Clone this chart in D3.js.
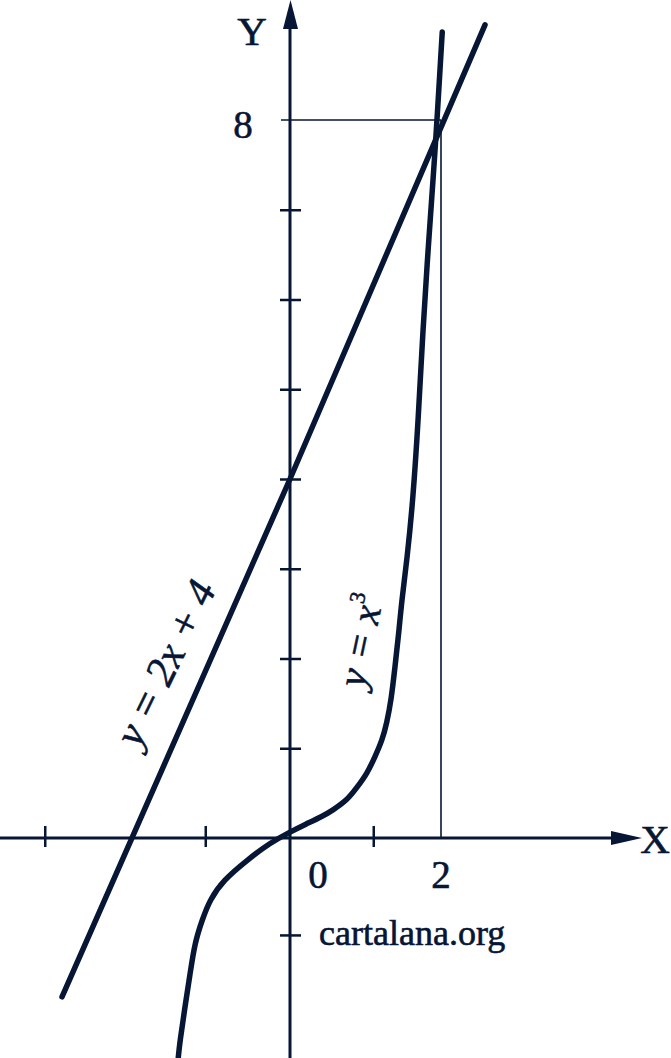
<!DOCTYPE html>
<html><head><meta charset="utf-8">
<script src="https://cdn.jsdelivr.net/npm/d3@7"></script>
<style>html,body{margin:0;padding:0;background:#fff}</style>
</head><body><svg id="c" width="671" height="1058"></svg>
<script>
// ---- data ----
const xTicks = [-3.27, -1.13, 1.11];
const yTicks = [-1.08, 1, 2, 3, 4, 5, 6, 7];
const xTickLabels = ["0", "2"];
const xTickLabelValues = [0, 2];
const yTickLabels = ["8"];
const yTickLabelValues = [8];
const markX = 2, markY = 8;
const lineX = [-3.04, 0, 2.6];
const lineY = [-1.77, 4.0, 9.06];
const cubeX = [-1.49, -1.47, -1.40, -1.33, -1.27, -1.17, -1.07, -0.89, -0.57, -0.27, 0, 0.20, 0.43, 0.57, 0.76, 0.89, 1.03, 1.13, 1.23, 1.29, 1.35, 1.40, 1.45, 1.49, 1.56, 1.64, 1.71, 1.77, 1.84, 1.92, 1.96, 2.03];
const cubeY = [-2.45, -2.28, -1.88, -1.50, -1.17, -0.91, -0.69, -0.47, -0.245, -0.056, 0.067, 0.15, 0.24, 0.31, 0.42, 0.56, 0.72, 0.90, 1.09, 1.28, 1.54, 1.91, 2.28, 2.65, 3.10, 3.77, 4.66, 5.63, 6.55, 7.48, 8.0, 8.98];
const lineLabel = "y = 2x + 4";
const cubeLabel = "y = x";
const cubeSup = "3";
const watermark = "cartalana.org";

// ---- drawing ----
const C = "#061634";
const FONT = "'Liberation Serif', 'Times New Roman', serif";
const svg = d3.select("#c");
const x = d3.scaleLinear().domain([0, 2]).range([290, 440]);
const y = d3.scaleLinear().domain([0, 8]).range([838, 120]);
const X0 = x(0), Y0 = y(0);

// guide lines
svg.append("line").attr("x1", X0 - 9).attr("x2", x(markX) + 1).attr("y1", y(markY)).attr("y2", y(markY))
  .attr("stroke", C).attr("stroke-width", 1.6);
svg.append("line").attr("x1", x(markX) + 1).attr("x2", x(markX) + 1).attr("y1", y(markY)).attr("y2", Y0)
  .attr("stroke", C).attr("stroke-width", 1.6);

// x axis
const gx = svg.append("g").attr("transform", `translate(0,${Y0})`)
  .call(d3.axisBottom(x).tickValues(xTicks).tickSizeOuter(0).tickFormat(""));
gx.select(".domain").remove();
gx.selectAll(".tick line").attr("y1", -12).attr("y2", 9).attr("stroke", C).attr("stroke-width", 2.5);
svg.append("line").attr("x1", 0).attr("x2", 615).attr("y1", Y0).attr("y2", Y0).attr("stroke", C).attr("stroke-width", 3);
svg.append("path").attr("d", `M642,${Y0} L611,${Y0 - 7} L611,${Y0 + 7} Z`).attr("fill", C);

// y axis
const gy = svg.append("g").attr("transform", `translate(${X0},0)`)
  .call(d3.axisLeft(y).tickValues(yTicks).tickSizeOuter(0).tickFormat(""));
gy.select(".domain").remove();
gy.selectAll(".tick line").attr("x1", -10).attr("x2", 11).attr("stroke", C).attr("stroke-width", 2.5);
svg.append("line").attr("x1", X0).attr("x2", X0).attr("y1", 1058).attr("y2", 25).attr("stroke", C).attr("stroke-width", 3);
svg.append("path").attr("d", `M${X0 + 0.5},0 L${X0 - 7},29 L${X0 + 8},29 Z`).attr("fill", C);

// curves
const line = d3.line().x(d => x(d[0])).y(d => y(d[1]));
svg.append("path").datum(lineX.map((v, i) => [v, lineY[i]]))
  .attr("d", line).attr("fill", "none").attr("stroke", C).attr("stroke-width", 5.5).attr("stroke-linecap", "round");
svg.append("path").datum(cubeX.map((v, i) => [v, cubeY[i]]))
  .attr("d", d3.line().x(d => x(d[0])).y(d => y(d[1])).curve(d3.curveBasis))
  .attr("fill", "none").attr("stroke", C).attr("stroke-width", 5.5).attr("stroke-linecap", "round");

// texts
const txt = (s, px, py, size, anchor) => svg.append("text").attr("x", px).attr("y", py)
  .attr("font-family", FONT).attr("font-size", size).attr("fill", C)
  .attr("stroke", C).attr("stroke-width", 0.6)
  .attr("text-anchor", anchor || "middle").text(s);
xTickLabels.forEach((t, i) => txt(t, x(xTickLabelValues[i]) + (i === 0 ? 28 : 1), 888, 39));
yTickLabels.forEach((t, i) => txt(t, X0 - 47, y(yTickLabelValues[i]) + 18, 39));
txt("Y", 252, 45, 41);
txt("X", 655, 853, 41);
txt(watermark, 319, 945, 36, "start");

svg.append("text").attr("transform", "translate(178,669) rotate(-64)")
  .attr("font-family", FONT).attr("font-style", "italic").attr("font-size", 42).attr("fill", C)
  .attr("stroke", C).attr("stroke-width", 0.6)
  .attr("text-anchor", "middle").text(lineLabel);
const t2 = svg.append("text").attr("transform", "translate(364,689) rotate(-78)")
  .attr("font-family", FONT).attr("font-style", "italic").attr("font-size", 40).attr("fill", C)
  .attr("stroke", C).attr("stroke-width", 0.6)
  .attr("text-anchor", "start");
t2.append("tspan").text(cubeLabel);
t2.append("tspan").attr("font-size", 22).attr("dy", -18).attr("font-style", "normal").text(cubeSup);
</script></body></html>
